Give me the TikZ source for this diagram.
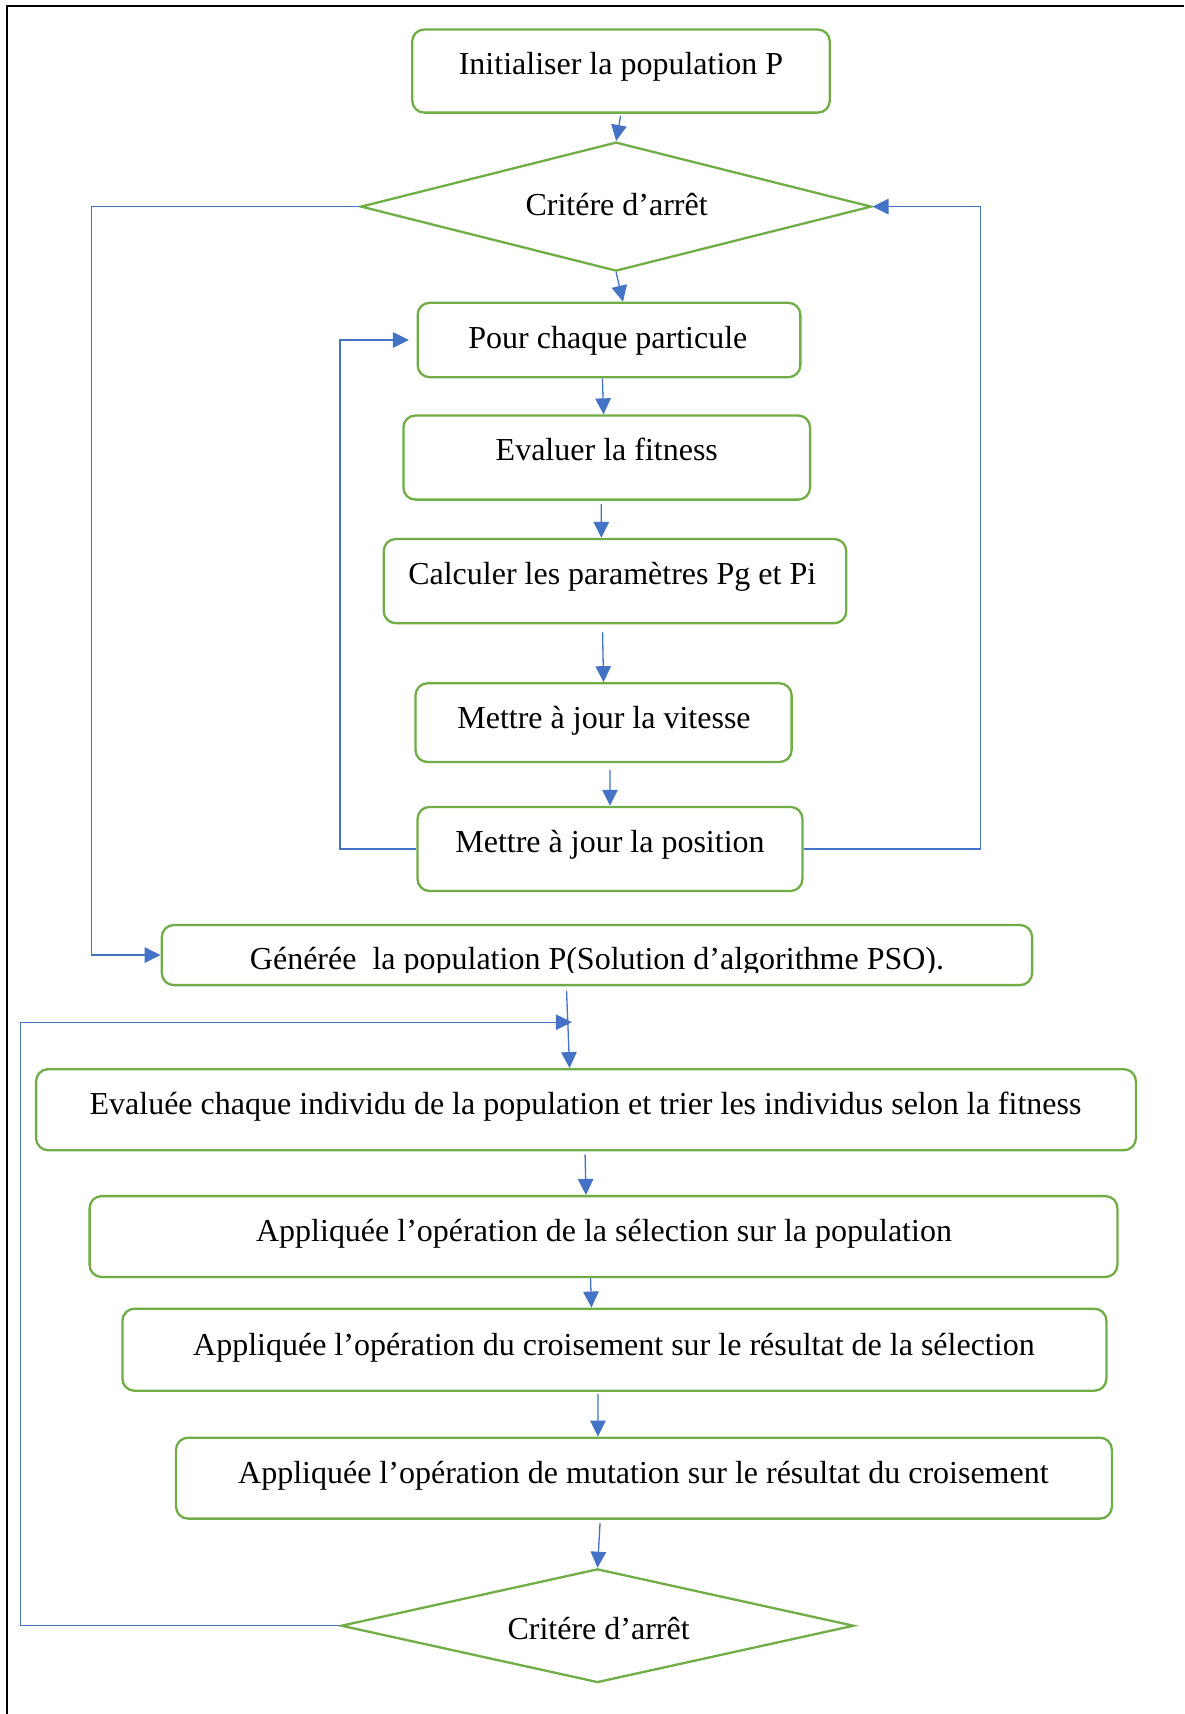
\documentclass[tikz,border=0pt]{standalone}
\usepackage{fontspec}
\setmainfont{Liberation Serif}
\usetikzlibrary{arrows.meta,shapes.geometric}
\definecolor{boxgreen}{HTML}{70AD47}
\definecolor{linkblue}{HTML}{4472C4}
\begin{document}
\begin{tikzpicture}[x=1pt,y=-1pt,
  stepbox/.style={draw=boxgreen, line width=2.3pt, rounded corners=12pt, inner sep=0pt},
  test/.style={shape=diamond, draw=boxgreen, line width=2.3pt, inner sep=0pt},
  lbl/.style={font=\fontsize{32}{38}\selectfont, inner sep=0pt, anchor=base},
  conn/.style={draw=linkblue, line width=1.3pt, -{Triangle[length=16pt,width=15.5pt]}},
  frame/.style={draw=black, line width=2pt}]
\useasboundingbox (0,0) rectangle (1184,1714);

% page frame (top and left edges)
\draw[frame] (6.5,1714) -- (6.5,5.5) -- (1184,5.5);

% PSO part
\node[stepbox, minimum width=417.6pt, minimum height=83.1pt] (init) at (621,71.05) {};
\node[lbl] (tinit) at (621,74.9) {Initialiser la population P};

\node[test, minimum width=510.6pt, minimum height=129pt] (crit1) at (616.1,206.6) {};
\node[lbl] (tcrit1) at (616.6,215.9) {Critére d’arrêt};

\node[stepbox, minimum width=382.7pt, minimum height=74.4pt] (pour) at (609,340) {};
\node[lbl] (tpour) at (607.9,348.2) {Pour chaque particule};

\node[stepbox, minimum width=406.7pt, minimum height=84.1pt] (eval) at (606.75,457.55) {};
\node[lbl] (teval) at (606.8,460.8) {Evaluer la fitness};

\node[stepbox, minimum width=462.5pt, minimum height=84.2pt] (calc) at (615,581.1) {};
\node[lbl] (tcalc) at (612.2,584.4) {Calculer les paramètres Pg et Pi};

\node[stepbox, minimum width=376.1pt, minimum height=78.7pt] (vit) at (603.55,722.65) {};
\node[lbl] (tvit) at (604,728.7) {Mettre à jour la vitesse};

\node[stepbox, minimum width=384.9pt, minimum height=84.1pt] (pos) at (610,848.95) {};
\node[lbl] (tpos) at (610,852.2) {Mettre à jour la position};

\node[stepbox, minimum width=870.3pt, minimum height=60.1pt] (gen) at (596.95,955.05) {};
\begin{scope}
  \clip (165,930) rectangle (1028,972.5);
  \node[lbl] (tgen) at (597,969.2) {Générée~ la population P(Solution d’algorithme PSO).};
\end{scope}

% genetic part
\node[stepbox, minimum width=1099.8pt, minimum height=81pt] (evi) at (586,1109.7) {};
\node[lbl] (tevi) at (585.5,1114.6) {Evaluée chaque individu de la population et trier les individus selon la fitness};

\node[stepbox, minimum width=1027.8pt, minimum height=80.9pt] (sel) at (603.5,1236.55) {};
\node[lbl] (tsel) at (604,1241.4) {Appliquée l’opération de la sélection sur la population};

\node[stepbox, minimum width=984pt, minimum height=82pt] (cro) at (614.4,1349.7) {};
\node[lbl] (tcro) at (613.9,1355.1) {Appliquée l’opération du croisement sur le résultat de la sélection};

\node[stepbox, minimum width=935.9pt, minimum height=80.9pt] (mut) at (643.95,1478.15) {};
\node[lbl] (tmut) at (643.4,1483.1) {Appliquée l’opération de mutation sur le résultat du croisement};

\node[test, minimum width=512.8pt, minimum height=113.7pt] (crit2) at (597.5,1625.7) {};
\node[lbl] (tcrit2) at (598.6,1639.4) {Critére d’arrêt};

% forward connectors
\draw[conn, shorten <=2pt] (init.south) -- (crit1.north);
\draw[conn] (crit1.south) -- ([xshift=14pt]pour.north);
\draw[conn] ([xshift=-6.6pt]pour.south) -- ([xshift=-3.2pt]eval.north);
\draw[conn, shorten <=3.4pt] ([xshift=-5.5pt]eval.south) -- ([xshift=-13.7pt]calc.north);
\draw[conn, shorten <=7.6pt] ([xshift=-12.6pt]calc.south) -- (vit.north);
\draw[conn, shorten <=6.6pt] ([xshift=6.5pt]vit.south) -- (pos.north);
\draw[conn, shorten <=4.3pt] ([xshift=-30.6pt]gen.south) -- ([xshift=-16.4pt]evi.north);
\draw[conn, shorten <=3.3pt] ([xshift=-1pt]evi.south) -- ([xshift=-17.5pt]sel.north);
\draw[conn] ([xshift=-13pt]sel.south) -- ([xshift=-22.9pt]cro.north);
\draw[conn, shorten <=2.3pt] ([xshift=-16.4pt]cro.south) -- ([xshift=-46pt]mut.north);
\draw[conn, shorten <=3.3pt] ([xshift=-43.7pt]mut.south) -- (crit2.north);

% loops
\draw[conn] (pos.east) -- ++(177.1,0) |- (crit1.east);
\draw[conn] (crit1.west) -- ++(-267.9,0) |- (gen.west);
\draw[conn, shorten >=7.6pt] (pos.west) -- ++(-76.5,0) |- (pour.west);
\coordinate (merge) at (571.8,1022.2);
\draw[conn] (crit2.west) -- ++(-319.2,0) |- (merge);
\end{tikzpicture}
\end{document}
